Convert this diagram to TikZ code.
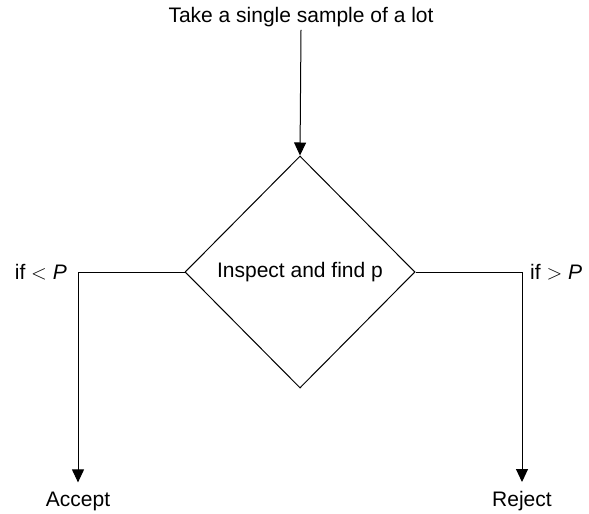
\documentclass[tikz,border=0pt]{standalone}
\usepackage{fontspec}
\setmainfont{Liberation Sans}
\usetikzlibrary{arrows.meta,shapes.geometric}

\begin{document}
\begin{tikzpicture}[x=1bp, y=-1bp,
    lbl/.style={font=\fontsize{21bp}{25bp}\selectfont, inner sep=3bp},
    check/.style={draw, line width=1bp, shape=diamond, minimum width=230bp,
        minimum height=232bp, inner sep=0pt, font=\fontsize{21bp}{25bp}\selectfont},
    flow/.style={line width=1bp, -{Triangle[length=13bp, width=12bp]}}]
\useasboundingbox (0,0) rectangle (589,514);
% sample and test
\node[lbl] (sample) at (301,17) {Take a single sample of a lot};
\node[check] (inspect) at (300,272) {Inspect and find p};
\draw[flow] (sample.south) -- (inspect.north);
% outcomes
\coordinate (lturn) at (78,272);
\coordinate (rturn) at (522,272);
\node[lbl] (accept) at (78,501) {Accept};
\node[lbl] (reject) at (522,501) {Reject};
\draw[flow] (inspect.west) -- (lturn) -- ([yshift=6bp]accept.north);
\draw[flow] (inspect.east) -- (rturn) -- ([yshift=6bp]reject.north);
\node[lbl, anchor=east] (less) at (70,272) {if $<$ \textit{P}};
\node[lbl, anchor=west] (more) at (527,272) {if $>$ \textit{P}};
\end{tikzpicture}
\end{document}
